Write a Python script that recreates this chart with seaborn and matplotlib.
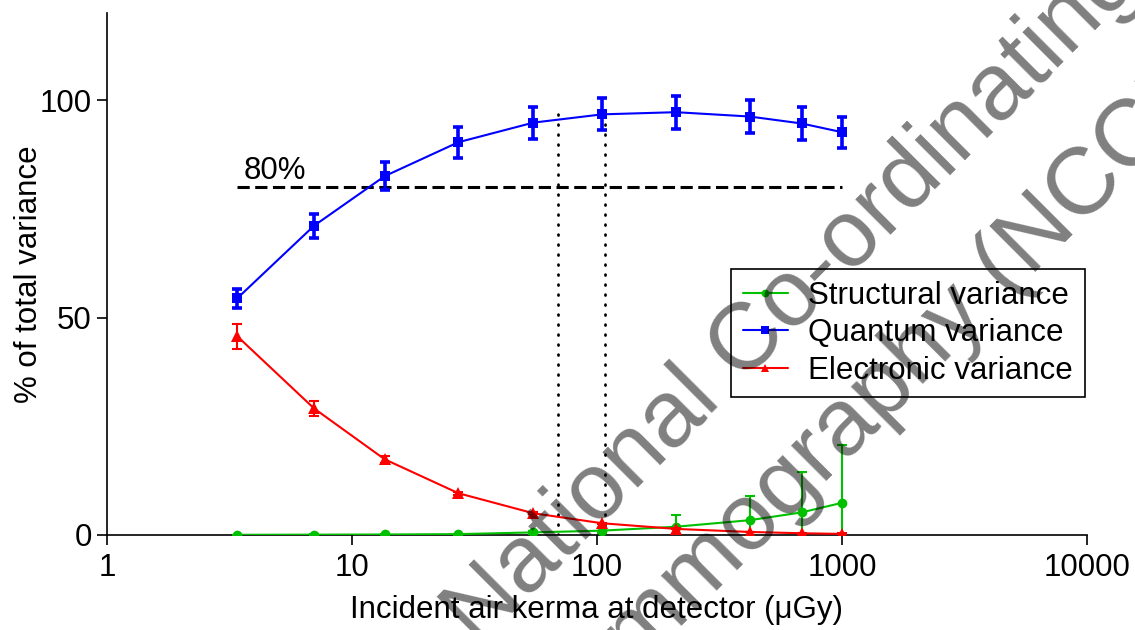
import math
import matplotlib
matplotlib.use("Agg")
import matplotlib.pyplot as plt
import seaborn as sns
import pandas as pd

# ---------------- data ----------------
kerma = [3.4, 7.0, 13.6, 27.2, 55, 105, 210, 420, 685, 1000]
structural = [0.05, 0.08, 0.12, 0.2, 0.6, 1.0, 1.9, 3.4, 5.2, 7.4]
structural_err = [0.05, 0.05, 0.08, 0.1, 0.3, 0.5, 2.7, 5.6, 9.3, 13.3]
quantum = [54.4, 71.1, 82.5, 90.3, 94.8, 96.7, 97.2, 96.2, 94.6, 92.6]
quantum_err = [2.2, 2.8, 3.2, 3.6, 3.7, 3.7, 3.8, 3.7, 3.7, 3.6]
electronic = [45.7, 29.1, 17.4, 9.6, 5.0, 2.7, 1.4, 0.7, 0.4, 0.25]
electronic_err = [2.9, 1.8, 0.8, 0.3, 0.2, 0.15, 0.1, 0.1, 0.1, 0.1]

series_labels = ["Structural variance", "Quantum variance", "Electronic variance"]
threshold = 80
threshold_label = "80%"
threshold_range = [3.4, 1000]
marker_lines_x = [69, 108]
marker_lines_top = 98.5

x_ticks = [1, 10, 100, 1000, 10000]
x_tick_labels = ["1", "10", "100", "1000", "10000"]
y_ticks = [0, 50, 100]
y_tick_labels = ["0", "50", "100"]
x_label = "Incident air kerma at detector (\u03bcGy)"
y_label = "% of total variance"
watermark_lines = ["National Co-ordinating Centre for the Physics of",
                   "Mammography (NCCPM)"]

# ---------------- style ----------------
sns.set_style("ticks")
plt.rcParams["font.family"] = ["Liberation Sans", "DejaVu Sans"]
for k in ["text.color", "axes.labelcolor", "xtick.color", "ytick.color",
          "axes.edgecolor"]:
    plt.rcParams[k] = "black"
FS = 22.5

GREEN = "#00c000"
BLUE = "#0000ff"
RED = "#ff0000"

fig = plt.figure(figsize=(11.35, 6.3), dpi=100)
W, H = 1135, 630
ax = fig.add_axes([107 / W, 1 - 535 / H, 980 / W, 522 / H])

df = pd.DataFrame({"kerma": kerma, "Structural": structural,
                   "Quantum": quantum, "Electronic": electronic})

# lines with markers through seaborn
sns.lineplot(data=df, x="kerma", y="Structural", ax=ax, color=GREEN, lw=1.5,
             marker="o", markersize=7, markeredgewidth=0, label=series_labels[0],
             zorder=3)
sns.lineplot(data=df, x="kerma", y="Quantum", ax=ax, color=BLUE, lw=1.5,
             marker="s", markersize=7, markeredgewidth=0, label=series_labels[1],
             zorder=3)
sns.lineplot(data=df, x="kerma", y="Electronic", ax=ax, color=RED, lw=1.5,
             marker="^", markersize=8, markeredgewidth=0, label=series_labels[2],
             zorder=4)

ax.errorbar(kerma, structural, yerr=structural_err, fmt="none", ecolor=GREEN,
            elinewidth=1.5, capsize=3.5, capthick=1.5, zorder=3)
ax.errorbar(kerma, quantum, yerr=quantum_err, fmt="none", ecolor=BLUE,
            elinewidth=2.6, capsize=3.8, capthick=2.6, zorder=3)
ax.errorbar(kerma, electronic, yerr=electronic_err, fmt="none", ecolor=RED,
            elinewidth=1.5, capsize=3.5, capthick=1.5, zorder=4)

# reference lines
ax.plot(threshold_range, [threshold, threshold], color="black", lw=2.2,
        linestyle=(0, (4, 1.8)), zorder=2)
for xv in marker_lines_x:
    ax.plot([xv, xv], [0, marker_lines_top], color="black", lw=2.0,
            linestyle=(0, (0.3, 3.3)), dash_capstyle="round", zorder=2)
ax.text(3.6, 81.8, threshold_label, fontsize=FS, ha="left", va="baseline")

# axes
ax.set_xscale("log")
ax.set_xlim(1, 10000)
ax.set_ylim(0, 120)
ax.set_xticks(x_ticks, labels=x_tick_labels)
ax.minorticks_off()
ax.set_yticks(y_ticks, labels=y_tick_labels)
ax.tick_params(axis="both", labelsize=FS, width=1.2, length=7, direction="out",
               color="black", labelcolor="black")
ax.tick_params(axis="x", pad=6)
ax.tick_params(axis="y", pad=4)
for s in ["top", "right"]:
    ax.spines[s].set_visible(False)
for s in ["left", "bottom"]:
    ax.spines[s].set_linewidth(1.2)
    ax.spines[s].set_color("black")
ax.set_xlabel(x_label, fontsize=FS, labelpad=8.5)
ax.set_ylabel(y_label, fontsize=FS, labelpad=-3)
ax.grid(False)

handles, labels = ax.get_legend_handles_labels()
leg = ax.legend(handles[:3], labels[:3], loc="upper left",
                bbox_to_anchor=((731 - 107) / 980, (535 - 269) / 522),
                borderaxespad=0, fontsize=FS, handlelength=1.45,
                handletextpad=0.66, labelspacing=0.24, borderpad=0.37,
                frameon=True, fancybox=False, framealpha=1, markerscale=0.8)
leg.get_frame().set_edgecolor("black")
leg.get_frame().set_linewidth(1.2)

# watermark (two rotated lines, semi-transparent)
ang = 45
fsz = 68
anchors = [(478, 648), (544, 764)]
for line, (px, py) in zip(watermark_lines, anchors):
    fig.text(px / W, 1 - py / H, line, fontsize=fsz, color="black", alpha=0.5,
             rotation=ang, rotation_mode="anchor", ha="left", va="baseline",
             zorder=10)

fig.savefig("out.png", dpi=100)
